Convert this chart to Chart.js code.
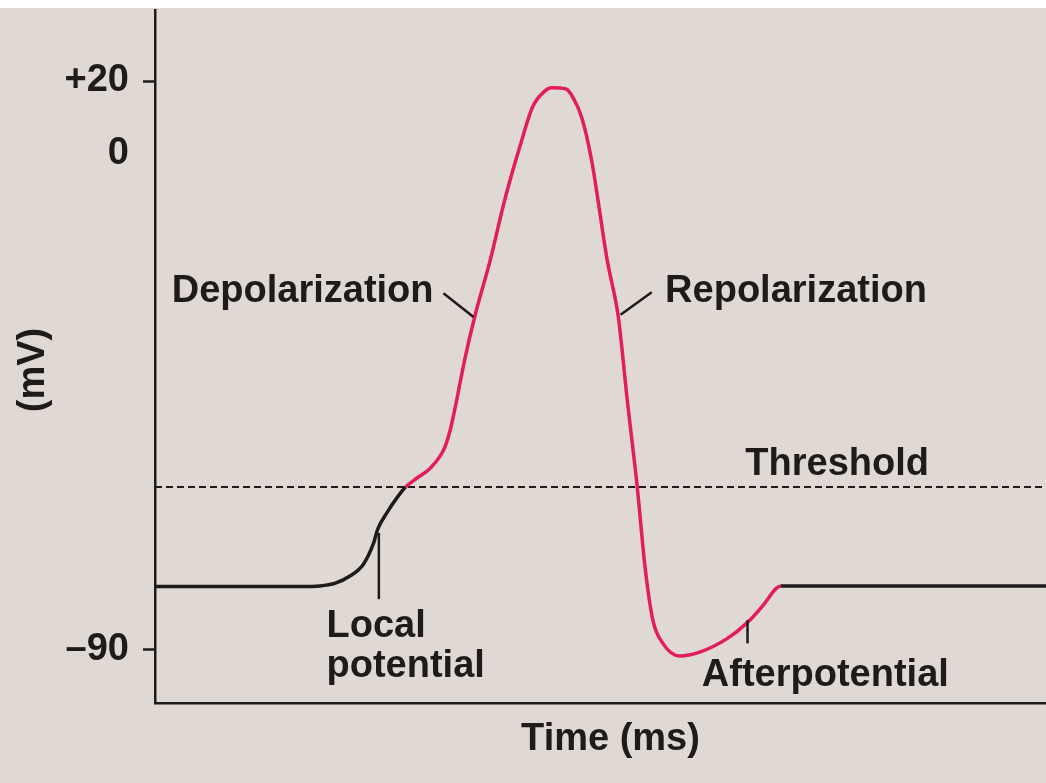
<!DOCTYPE html>
<html>
<head>
<meta charset="utf-8">
<script src="https://cdn.jsdelivr.net/npm/chart.js@4/dist/chart.umd.min.js"></script>
<style>
  html, body { margin: 0; padding: 0; background: #ffffff; }
  canvas { display: block; }
</style>
</head>
<body>
<canvas id="c" width="1046" height="783"></canvas>
<script>
// ---------------- DATA ----------------
// time (ms) of each traced point of the membrane potential curve
const TIME_MS = [0, 1.30, 1.48, 1.62, 1.75, 1.87, 1.96, 2.00, 2.09, 2.17, 2.25,
  2.35, 2.47, 2.60, 2.65, 2.69, 2.78, 2.87, 3.01, 3.14, 3.28, 3.39, 3.50, 3.56,
  3.69, 3.75, 3.83, 3.92, 4.06, 4.16, 4.24, 4.33, 4.40, 4.47, 4.56, 4.71, 4.89,
  5.14, 5.32, 5.46, 5.58, 5.62, 8.0];
// membrane potential (mV) at each point
const POTENTIAL_MV = [-78.5, -78.5, -78.4, -77.9, -76.6, -74.5, -70.8, -68.1, -64.9, -62.5, -60.5,
  -58.9, -57.1, -53.4, -50.2, -46.6, -37.5, -29.7, -19.4, -8.5, 2.2, 12.8, 17.2, 18.1,
  17.8, 15.6, 10.0, -1.3, -19.4, -29.7, -44.7, -60.5, -75.0, -84.6, -88.8, -91.1, -90.4,
  -87.9, -85.0, -81.9, -78.8, -78.4, -78.4];
// action-potential phase drawn in pink (ms)
const SPIKE_START_MS = 2.25;
const SPIKE_END_MS = 5.62;
// threshold level (mV)
const THRESHOLD_MV = -60.5;
const TIME_RANGE = [0, 8];
// y-axis ticks
const Y_TICK_VALUES = [20, 0, -90];
const Y_TICK_LABELS = ['+20', '0', '\u201390'];
// annotation labels (anchored in data units: ms, mV)
const LABEL_TEXT = ['Depolarization', 'Repolarization', 'Threshold', 'Local', 'potential', 'Afterpotential'];
const LABEL_T    = [0.15, 4.58, 5.30, 1.54, 1.54, 4.91];
const LABEL_V    = [-27.0, -27.0, -58.3, -87.7, -94.9, -96.6];
// leader lines [t1, v1, t2, v2]
const LEADERS = [
  [2.59, -25.4, 2.86, -29.7],
  [4.46, -25.2, 4.18, -29.3],
  [2.01, -68.8, 2.01, -80.8],
  [5.32, -84.6, 5.32, -88.8]
];
const X_TITLE = 'Time (ms)';
const Y_TITLE = '(mV)';

// ---------------- STYLE ----------------
const INK = '#1f1b1b';
const PINK = '#e31d5c';
const BG = '#e0d8d3';
const FONT = '"Liberation Sans", Arial, Helvetica, sans-serif';
const UPPER_RATIO = 0.652; // positive mV drawn compressed, as in the schematic

function warp(v) { return v > 0 ? v * UPPER_RATIO : v; }
function unwarp(w) { return w > 0 ? w / UPPER_RATIO : w; }

class WarpScale extends Chart.LinearScale {
  static id = 'warp';
  getPixelForValue(value) {
    if (value === null || value === undefined) return NaN;
    return super.getPixelForValue(warp(value));
  }
  getValueForPixel(pixel) { return unwarp(super.getValueForPixel(pixel)); }
  buildTicks() { return Y_TICK_VALUES.map(v => ({ value: v })); }
}
Chart.register(WarpScale);

const curve = TIME_MS.map((t, i) => ({ x: t, y: POTENTIAL_MV[i] }));
const threshold = TIME_RANGE.map(t => ({ x: t, y: THRESHOLD_MV }));

const bgPlugin = {
  id: 'bg',
  beforeDraw(chart) {
    const c = chart.ctx;
    c.save();
    c.fillStyle = '#ffffff';
    c.fillRect(0, 0, chart.width, chart.height);
    c.fillStyle = BG;
    c.fillRect(0, 8, chart.width, chart.height - 8);
    c.restore();
  }
};

const annotPlugin = {
  id: 'annot',
  afterDraw(chart) {
    const c = chart.ctx;
    const xs = chart.scales.x, ys = chart.scales.y;
    c.save();
    c.strokeStyle = INK;
    c.lineWidth = 2.5;
    c.lineCap = 'butt';
    LEADERS.forEach(l => {
      c.beginPath();
      c.moveTo(xs.getPixelForValue(l[0]), ys.getPixelForValue(l[1]));
      c.lineTo(xs.getPixelForValue(l[2]), ys.getPixelForValue(l[3]));
      c.stroke();
    });
    c.fillStyle = INK;
    c.font = 'bold 38px ' + FONT;
    c.textAlign = 'left';
    c.textBaseline = 'alphabetic';
    LABEL_TEXT.forEach((txt, i) => {
      c.fillText(txt, xs.getPixelForValue(LABEL_T[i]), ys.getPixelForValue(LABEL_V[i]));
    });
    // axis titles
    c.textAlign = 'center';
    c.fillText(X_TITLE, chart.chartArea.left + (chart.chartArea.right - chart.chartArea.left) / 2 + 10, 750);
    c.translate(34, 370);
    c.rotate(-Math.PI / 2);
    c.textBaseline = 'middle';
    c.fillText(Y_TITLE, 0, 0);
    c.restore();
  }
};

new Chart(document.getElementById('c'), {
  type: 'line',
  data: {
    datasets: [
      {
        label: 'Membrane potential',
        data: curve,
        borderColor: INK,
        borderWidth: 3.5,
        pointRadius: 0,
        cubicInterpolationMode: 'monotone',
        fill: false,
        order: 0,
        segment: {
          borderColor: ctx => (ctx.p0.parsed.x >= SPIKE_START_MS - 1e-9 && ctx.p1.parsed.x <= SPIKE_END_MS + 1e-9) ? PINK : INK
        }
      },
      {
        label: 'Threshold',
        data: threshold,
        borderColor: INK,
        borderWidth: 2,
        borderDash: [7, 4],
        pointRadius: 0,
        fill: false,
        order: 1
      }
    ]
  },
  options: {
    responsive: false,
    animation: false,
    devicePixelRatio: 1,
    layout: { padding: { top: 10, right: 0, left: 0, bottom: 0 } },
    plugins: { legend: { display: false }, tooltip: { enabled: false }, title: { display: false } },
    scales: {
      x: {
        type: 'linear',
        min: TIME_RANGE[0],
        max: TIME_RANGE[1],
        ticks: { display: false },
        grid: { drawOnChartArea: false, drawTicks: false },
        border: { display: true, color: INK, width: 2.5 },
        afterFit: s => { s.height = 80; s.paddingLeft = 0; s.paddingRight = 0; }
      },
      y: {
        type: 'warp',
        position: 'left',
        min: -99.6,
        max: 25.9,
        ticks: {
          autoSkip: false,
          color: INK,
          padding: 14,
          font: { family: FONT, size: 38, weight: 'bold' },
          callback: (v, i) => Y_TICK_LABELS[i]
        },
        grid: {
          drawOnChartArea: false,
          drawTicks: true,
          tickLength: 12,
          tickWidth: 2.5,
          tickColor: ctx => (ctx.tick && ctx.tick.value === 0) ? 'rgba(0,0,0,0)' : INK
        },
        border: { display: true, color: INK, width: 2.5 },
        afterFit: s => { s.width = 155; s.paddingTop = 0; s.paddingBottom = 0; }
      }
    }
  },
  plugins: [bgPlugin, annotPlugin]
});
</script>
</body>
</html>
